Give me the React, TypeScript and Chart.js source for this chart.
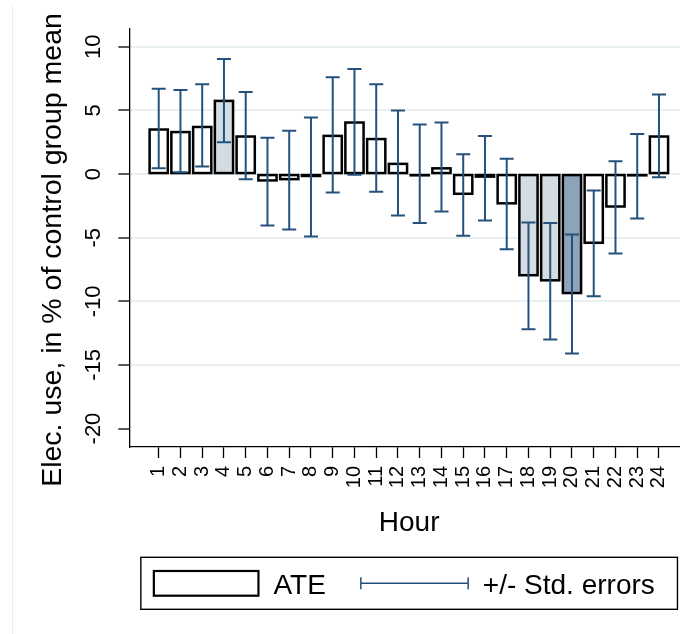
import React, { useEffect, useRef } from "react";
import { Chart, registerables } from "chart.js";

Chart.register(...registerables);

// ---------- data ----------
const HOURS = [1, 2, 3, 4, 5, 6, 7, 8, 9, 10, 11, 12, 13, 14, 15, 16, 17, 18, 19, 20, 21, 22, 23, 24];
const ATE = [3.5, 3.3, 3.7, 5.75, 2.95, -0.5, -0.4, -0.15, 3.0, 4.05, 2.75, 0.8, -0.1, 0.45, -1.55, -0.2, -2.3, -7.95, -8.35, -9.35, -5.4, -2.55, -0.1, 2.95];
const SE_LOW = [0.45, 0.15, 0.6, 2.5, -0.4, -4.05, -4.35, -4.9, -1.45, -0.05, -1.4, -3.25, -3.85, -2.95, -4.85, -3.65, -5.9, -12.2, -13.0, -14.1, -9.6, -6.25, -3.5, -0.25];
const SE_HIGH = [6.7, 6.6, 7.05, 9.05, 6.45, 2.85, 3.4, 4.45, 7.6, 8.25, 7.05, 5.0, 3.9, 4.05, 1.55, 3.0, 1.2, -3.8, -3.85, -4.75, -1.3, 1.0, 3.15, 6.25];
const Y_TICKS = [-20, -15, -10, -5, 0, 5, 10];
const Y_TITLE = "Elec. use, in % of control group mean";
const X_TITLE = "Hour";
const LEGEND_LABELS = ["ATE", "+/- Std. errors"];
const LIGHT_HOURS = [4, 18, 19];
const DARK_HOURS = [20];

// ---------- style ----------
const FONT = "'Liberation Sans', Arial, Helvetica, sans-serif";
const ERR_COLOR = "#24527c";
const GRID_COLOR = "#e8f0f2";
const FILL_WHITE = "#ffffff";
const FILL_LIGHT = "#d3dbe3";
const FILL_DARK = "#8ca3b9";
const OUTLINE = 2.5;

const barFill = (h: number) =>
  DARK_HOURS.includes(h) ? FILL_DARK : LIGHT_HOURS.includes(h) ? FILL_LIGHT : FILL_WHITE;

const decorPlugin = {
  id: "decor",
  beforeDraw(chart: any) {
    const ctx = chart.ctx;
    ctx.save();
    ctx.strokeStyle = "#e6eff1";
    ctx.lineWidth = 1;
    ctx.beginPath();
    ctx.moveTo(12.5, 6);
    ctx.lineTo(12.5, chart.height);
    ctx.stroke();
    ctx.restore();
  },
  afterDatasetsDraw(chart: any) {
    const ctx = chart.ctx;
    const xs = chart.scales.x;
    const ys = chart.scales.y;
    ctx.save();
    // bar outlines, stroked on the bar edges
    const meta = chart.getDatasetMeta(0);
    ctx.strokeStyle = "#000";
    ctx.lineWidth = OUTLINE;
    meta.data.forEach((el: any) => {
      const { x, y, base, width } = el.getProps(["x", "y", "base", "width"], true);
      const top = Math.min(y, base);
      const h = Math.abs(base - y);
      ctx.strokeRect(x - width / 2, top, width, h);
    });
    // error bars
    ctx.strokeStyle = ERR_COLOR;
    ctx.lineWidth = 2;
    const cap = 7;
    HOURS.forEach((hr, i) => {
      const x = xs.getPixelForValue(hr);
      const y1 = ys.getPixelForValue(SE_LOW[i]);
      const y2 = ys.getPixelForValue(SE_HIGH[i]);
      ctx.beginPath();
      ctx.moveTo(x, y1);
      ctx.lineTo(x, y2);
      ctx.moveTo(x - cap, y1);
      ctx.lineTo(x + cap, y1);
      ctx.moveTo(x - cap, y2);
      ctx.lineTo(x + cap, y2);
      ctx.stroke();
    });
    ctx.restore();
  },
  afterDraw(chart: any) {
    const ctx = chart.ctx;
    const ys = chart.scales.y;
    const area = chart.chartArea;
    ctx.save();
    ctx.fillStyle = "#000";
    // y tick labels (rotated)
    ctx.font = `22px ${FONT}`;
    ctx.textAlign = "center";
    ctx.textBaseline = "alphabetic";
    const bx = area.left - 11 - 18.5;
    Y_TICKS.forEach((v) => {
      const py = ys.getPixelForValue(v);
      ctx.save();
      ctx.translate(bx, py);
      ctx.rotate(-Math.PI / 2);
      ctx.fillText(String(v), 0, 0);
      ctx.restore();
    });
    // y title
    ctx.font = `28.5px ${FONT}`;
    ctx.save();
    ctx.translate(60.7, 250);
    ctx.rotate(-Math.PI / 2);
    ctx.fillText(Y_TITLE, 0, 0);
    ctx.restore();

    // legend
    const cx = (area.left + area.right) / 2;
    const boxL = cx - 268.3;
    const boxR = cx + 268.3;
    const boxT = 557.3;
    const boxB = 609.3;
    ctx.strokeStyle = "#000";
    ctx.lineWidth = 1.4;
    ctx.strokeRect(boxL, boxT, boxR - boxL, boxB - boxT);
    // swatch
    ctx.fillStyle = FILL_WHITE;
    ctx.fillRect(boxL + 12, 570, 106.6, 26.7);
    ctx.lineWidth = 2.2;
    ctx.strokeRect(boxL + 13, 571, 104.6, 24.7);
    ctx.fillStyle = "#000";
    ctx.font = `28px ${FONT}`;
    ctx.textAlign = "left";
    ctx.fillText(LEGEND_LABELS[0], boxL + 132.6, 593.5);
    // error bar symbol
    ctx.strokeStyle = ERR_COLOR;
    ctx.lineWidth = 1.5;
    const ex1 = boxL + 220;
    const ex2 = boxL + 327.3;
    const ey = 583.3;
    ctx.beginPath();
    ctx.moveTo(ex1, ey);
    ctx.lineTo(ex2, ey);
    ctx.moveTo(ex1, ey - 6);
    ctx.lineTo(ex1, ey + 6);
    ctx.moveTo(ex2, ey - 6);
    ctx.lineTo(ex2, ey + 6);
    ctx.stroke();
    ctx.fillText(LEGEND_LABELS[1], boxL + 342, 593.5);
    ctx.restore();
  },
};

export default function App() {
  const ref = useRef<HTMLCanvasElement | null>(null);

  useEffect(() => {
    if (!ref.current) return;
    const chart = new Chart(ref.current, {
      type: "bar",
      data: {
        datasets: [
          {
            label: LEGEND_LABELS[0],
            data: HOURS.map((h, i) => ({ x: h, y: ATE[i] })),
            backgroundColor: HOURS.map(barFill),
            borderWidth: 0,
            barPercentage: 0.837,
            categoryPercentage: 1,
          },
        ],
      },
      options: {
        animation: false,
        responsive: false,
        events: [],
        layout: { padding: { top: 29, right: 3, left: 0, bottom: 0 } },
        plugins: { legend: { display: false }, tooltip: { enabled: false } },
        scales: {
          x: {
            type: "linear",
            offset: false,
            min: -0.352,
            max: 25.38,
            afterBuildTicks: (s: any) => {
              s.ticks = HOURS.map((v) => ({ value: v }));
            },
            afterFit: (s: any) => {
              s.height = 187;
            },
            ticks: {
              minRotation: 90,
              maxRotation: 90,
              autoSkip: false,
              padding: 8,
              color: "#000",
              font: { family: FONT, size: 20 },
              callback: (v: any) => String(v),
            },
            grid: {
              offset: false,
              drawOnChartArea: false,
              drawTicks: true,
              tickLength: 11,
              tickColor: "#000",
              tickWidth: 1.3,
              color: "#000",
            },
            border: { color: "#000", width: 1.3 },
            title: {
              display: true,
              text: X_TITLE,
              color: "#000",
              font: { family: FONT, size: 28 },
              padding: { top: 0, bottom: 94 },
            },
          },
          y: {
            type: "linear",
            min: -21.45,
            max: 11.4,
            afterBuildTicks: (s: any) => {
              s.ticks = Y_TICKS.map((v) => ({ value: v }));
            },
            afterFit: (s: any) => {
              s.width = 129.3;
            },
            ticks: { display: false },
            grid: {
              color: (c: any) => (c.tick && c.tick.value === Y_TICKS[0] ? "rgba(0,0,0,0)" : GRID_COLOR),
              lineWidth: 2,
              drawTicks: true,
              tickLength: 11,
              tickColor: "#000",
              tickWidth: 1.3,
            },
            border: { color: "#000", width: 1.3 },
          },
        },
      },
      plugins: [decorPlugin],
    } as any);
    return () => chart.destroy();
  }, []);

  return (
    <div
      style={{
        position: "absolute",
        left: 0,
        top: 0,
        width: 680,
        height: 634,
        overflow: "hidden",
        background: "#fff",
      }}
    >
      <canvas ref={ref} width={692} height={634} style={{ width: 692, height: 634, display: "block" }} />
    </div>
  );
}
